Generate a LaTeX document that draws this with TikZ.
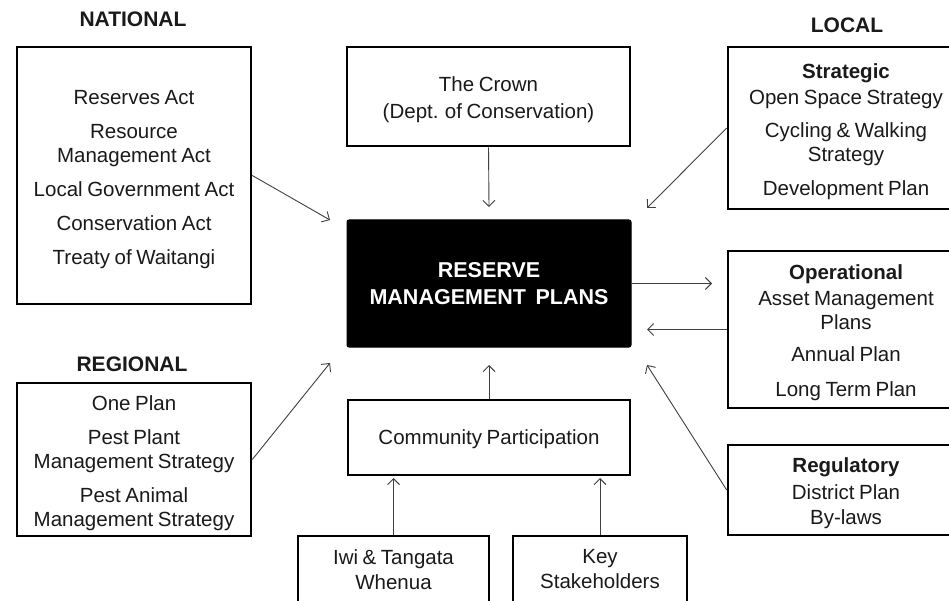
\documentclass[tikz,border=0pt]{standalone}
\usepackage{fontspec}
\setmainfont{Liberation Sans}[WordSpace=0.8]
\usetikzlibrary{arrows.meta}
\definecolor{txtc}{HTML}{1A1A1A}
\definecolor{arrc}{HTML}{404040}
\newcommand\myreg{\fontsize{20.5}{24}\selectfont}
\newcommand\myhdr{\fontsize{21}{25}\selectfont\bfseries}
\newcommand\mybig{\fontsize{21.5}{27}\selectfont\bfseries}
\newcommand\tup[1]{\rule{0pt}{#1}}
\begin{document}
\begin{tikzpicture}[x=1pt,y=-1pt,
  box/.style={draw=black, line width=2.6pt, fill=white, text=txtc, align=center, inner sep=0pt, font=\myreg},
  hdr/.style={font=\myhdr, text=txtc, inner sep=0pt},
  conn/.style={draw=arrc, line width=0.9pt, -{Straight Barb[length=6pt,width=12pt,line width=0.9pt]}}]
\useasboundingbox (0,0) rectangle (949,601);
\clip (0,0) rectangle (949,601);
\fill[white] (0,0) rectangle (949,601);

% headers
\node[hdr] (hnat) at (133,19) {NATIONAL};
\node[hdr] (hloc) at (847,25) {LOCAL};
\node[hdr] (hreg) at (132,364) {REGIONAL};

% left boxes
\node[box, minimum width=234, minimum height=257] (nat) at (134,175.5)
  {\tup{22pt}Reserves Act\\[10pt] Resource\\ Management Act\\[10pt] Local Government Act\\[10pt] Conservation Act\\[10pt] Treaty of Waitangi};
\node[box, minimum width=234, minimum height=153] (regn) at (134,459.5)
  {\tup{22pt}One Plan\\[10pt] Pest Plant\\ Management Strategy\\[10pt] Pest Animal\\ Management Strategy};

% centre column
\node[box, minimum width=283, minimum height=99] (crown) at (488.5,96.5)
  {\tup{22pt}The Crown\\[3pt] (Dept. of Conservation)};
\node[box, draw=black, line width=1pt, fill=black, text=white, rounded corners=2pt, font=\mybig,
  minimum width=284, minimum height=127] (rmp) at (489,283.5)
  {RESERVE\\ MANAGEMENT\ \ PLANS};
\node[box, minimum width=282, minimum height=75] (comm) at (489,437.5) {\tup{19pt}Community Participation};
\node[box, minimum width=191, minimum height=67] (iwi) at (393.5,569.5) {Iwi \& Tangata\\[1pt] Whenua};
\node[box, minimum width=174, minimum height=67] (key) at (600,569.5) {Key\\[1pt] Stakeholders};

% right boxes
\node[box, minimum width=236, minimum height=162] (strat) at (846,128)
  {\tup{22pt}\textbf{Strategic}\\[2pt] Open Space Strategy\\[9pt] Cycling \& Walking\\ Strategy\\[10pt] Development Plan};
\node[box, minimum width=236, minimum height=157] (op) at (846,329.5)
  {\tup{22pt}\textbf{Operational}\\[2pt] Asset Management\\ Plans\\[8pt] Annual Plan\\[11pt] Long Term Plan};
\node[box, minimum width=236, minimum height=90] (regu) at (846,490)
  {\tup{22pt}\textbf{Regulatory}\\[3pt] District Plan\\[1pt] By-laws};

% arrow tips
\coordinate (tnw) at (330,220);
\coordinate (tsw) at (330,363);
\coordinate (tn) at (489,207);
\coordinate (ts) at (489,365);
\coordinate (tne) at (647,208);
\coordinate (te1) at (712,283.5);
\coordinate (te2) at (647,329.5);
\coordinate (tse) at (647,365);
\coordinate (tiwi) at (393.5,478);
\coordinate (tkey) at (600,478);

% connectors
\draw[conn] (nat.east) -- (tnw);
\draw[conn] (regn.east) -- (tsw);
\draw[conn] (crown.south) -- (tn);
\draw[conn] (comm.north) -- (ts);
\draw[conn] (strat.west) -- (tne);
\draw[conn] (rmp.east) -- (te1);
\draw[conn] (op.west) -- (te2);
\draw[conn] (regu.west) -- (tse);
\draw[conn] (iwi.north) -- (tiwi);
\draw[conn] (key.north) -- (tkey);
\end{tikzpicture}
\end{document}
